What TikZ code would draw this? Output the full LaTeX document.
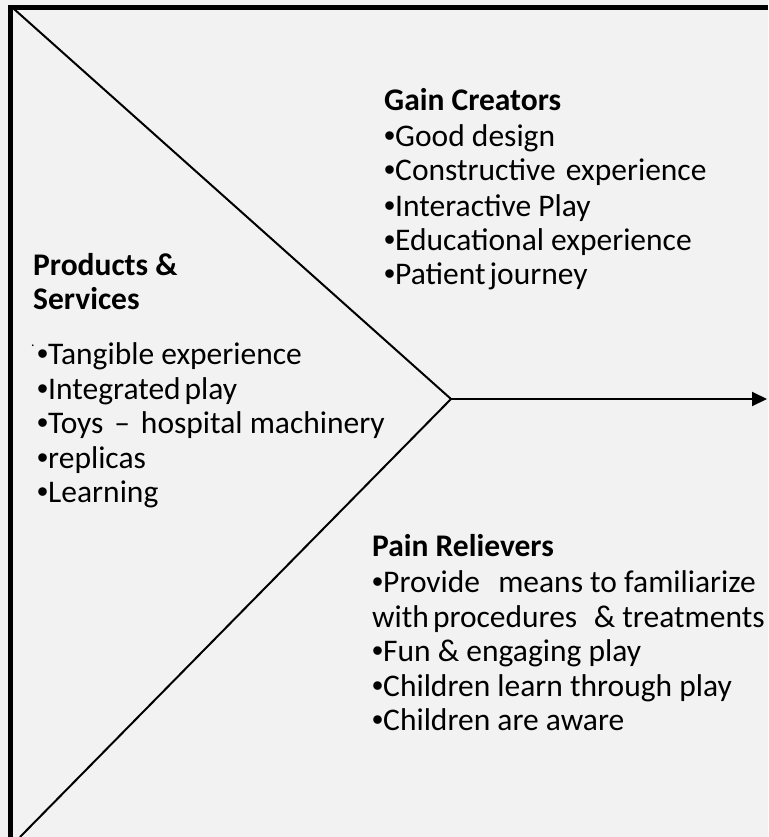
\documentclass[tikz,border=0pt]{standalone}
\usepackage{fontspec}
\setmainfont{Carlito}
\newfontfamily\arialf{Liberation Sans}
\newcommand\bul{{\arialf •}}
\usetikzlibrary{arrows.meta}
\definecolor{bg}{HTML}{F2F2F2}
\begin{document}
\begin{tikzpicture}[x=1pt,y=-1pt,
  txt/.style={anchor=base west,inner sep=0pt,font=\fontsize{31.5}{38}\selectfont},
  ttl/.style={anchor=base west,inner sep=0pt,font=\fontsize{31.5}{38}\selectfont\bfseries},
  edge/.style={line width=2pt,line join=miter}]
\fill[bg] (0,0) rectangle (768,837);
\useasboundingbox (0,0) rectangle (768,837);
% frame
\draw[line width=5pt,line join=miter,line cap=butt] (10.5,837) -- (10.5,7.5) -- (768,7.5);
% chevron
\coordinate (tl) at (14,9);
\coordinate (apex) at (451,399);
\coordinate (bl) at (20,837);
\coordinate (tip) at (767,399);
\draw[edge] (tl) -- (apex) -- (bl);
\draw[edge,-{Triangle[length=15pt,width=14pt]}] (apex) -- (tip);
% Gain creators
\node[ttl] (gc) at (384,111) {Gain Creators};
\node[txt] (g1) at (384,147) {\bul Good design};
\node[txt] (g2) at (384,181) {\bul Constructive\hspace{0.1em} experience};
\node[txt] (g3) at (384,216) {\bul Interactive Play};
\node[txt] (g4) at (384,250) {\bul Educational experience};
\node[txt] (g5) at (384,284) {\bul Patient\hspace{-0.1em} journey};
% Products & Services
\node[ttl] (ps1) at (33,275) {Products \&};
\node[ttl] (ps2) at (33,309) {Services};
\node[inner sep=0pt,anchor=base west,font=\fontsize{14}{14}\selectfont] (dot) at (31,346) {.};
\node[txt] (p1) at (37,364) {\bul Tangible experience};
\node[txt] (p2) at (37,399) {\bul Integrated\hspace{-0.1em} play};
\node[txt] (p3) at (37,433) {\bul Toys\hspace{0.12em} --\hspace{0.12em} hospital machinery};
\node[txt] (p4) at (37,468) {\bul replicas};
\node[txt] (p5) at (37,502) {\bul Learning};
% Pain relievers
\node[ttl] (pr) at (372,556) {Pain Relievers};
\node[txt] (r1) at (372,592) {\bul Provide\hspace{0.35em} means to familiarize};
\node[txt] (r2) at (372,627) {with\hspace{-0.1em} procedures\hspace{0.3em} \& treatments};
\node[txt] (r3) at (372,661) {\bul Fun \& engaging play};
\node[txt] (r4) at (372,696) {\bul Children learn through play};
\node[txt] (r5) at (372,730) {\bul Children are aware};
\end{tikzpicture}
\end{document}
